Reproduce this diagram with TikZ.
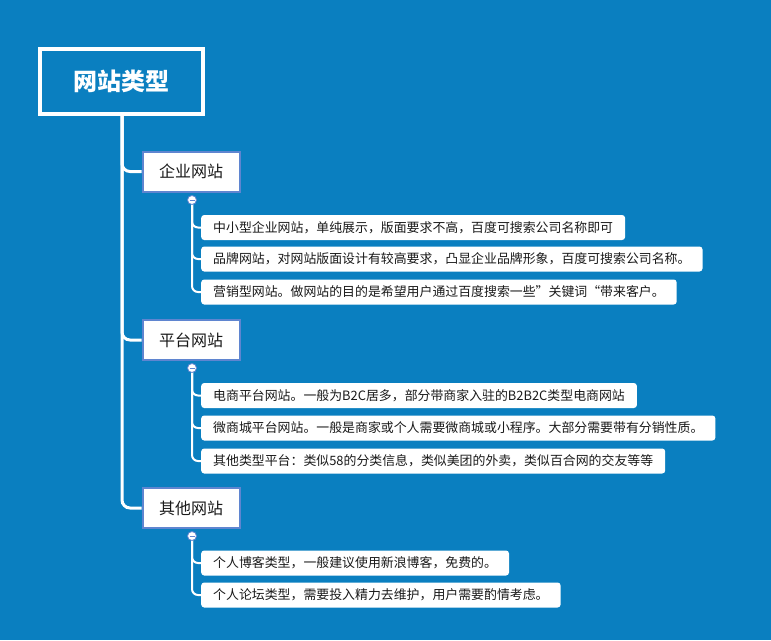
\documentclass[tikz,border=0pt]{standalone}
\usepackage{fontspec}
\setmainfont{Noto Sans CJK SC}
\definecolor{bg}{HTML}{0A7FC0}
\definecolor{subb}{HTML}{5F85D0}
\definecolor{txt}{HTML}{1A1A1A}
\begin{document}
\begin{tikzpicture}[x=1pt,y=-1pt,
 rootbox/.style={draw=white,line width=4pt,fill=bg,minimum width=163pt,minimum height=65pt,text=white,font=\fontsize{24}{28}\selectfont\bfseries},
 subbox/.style={draw=subb,line width=2pt,fill=white,minimum width=97pt,minimum height=40pt,text=txt,font=\fontsize{16}{19}\selectfont},
 leaf/.style={fill=white,rounded corners=3pt,minimum height=25pt,anchor=west,inner xsep=12pt,text=txt,font=\fontsize{12.9}{15}\selectfont},
 conn/.style={draw=white,line width=3pt,rounded corners=8pt},
 lconn/.style={draw=white,line width=2pt,rounded corners=6pt},
 dot/.style={circle,draw=subb,fill=white,line width=0.8pt,inner sep=0pt,minimum size=9pt}]
\fill[bg] (0,0) rectangle (771,640);
\useasboundingbox (0,0) rectangle (771,640);
\node[rootbox] (root) at (121.5,81.5) {网站类型};
\node[subbox] (s1) at (191,171.5) {企业网站};
\node[subbox] (s2) at (191,340) {平台网站};
\node[subbox] (s3) at (191,508) {其他网站};
\coordinate (t) at (122,116);
\foreach \s in {s1,s2,s3}{\draw[conn] (t) |- (\s.west);}
% leaves
\node[leaf] (a1) at (201,227.5) {中小型企业网站，单纯展示，版面要求不高，百度可搜索公司名称即可};
\node[leaf] (a2) at (201,259) {品牌网站，对网站版面设计有较高要求，凸显企业品牌形象，百度可搜索公司名称。};
\node[leaf] (a3) at (201,292) {营销型网站。做网站的目的是希望用户通过百度搜索一些”关键词“带来客户。};
\node[leaf] (b1) at (201,395.5) {电商平台网站。一般为B2C居多，部分带商家入驻的B2B2C类型电商网站};
\node[leaf] (b2) at (201,428) {微商城平台网站。一般是商家或个人需要微商城或小程序。大部分需要带有分销性质。};
\node[leaf] (b3) at (201,461) {其他类型平台：类似58的分类信息，类似美团的外卖，类似百合网的交友等等};
\node[leaf] (c1) at (201,563) {个人博客类型，一般建议使用新浪博客，免费的。};
\node[leaf] (c2) at (201,595) {个人论坛类型，需要投入精力去维护，用户需要酌情考虑。};
\coordinate (d1) at (192,200);
\coordinate (d2) at (192,368);
\coordinate (d3) at (192,536);
\foreach \l in {a1,a2,a3}{\draw[lconn] (d1) |- (\l.west);}
\foreach \l in {b1,b2,b3}{\draw[lconn] (d2) |- (\l.west);}
\foreach \l in {c1,c2}{\draw[lconn] (d3) |- (\l.west);}
\foreach \d in {d1,d2,d3}{\node[dot] at (\d) {}; \draw[subb,line width=0.8pt] ([xshift=-2.5pt]\d) -- ([xshift=2.5pt]\d);}
\end{tikzpicture}
\end{document}
